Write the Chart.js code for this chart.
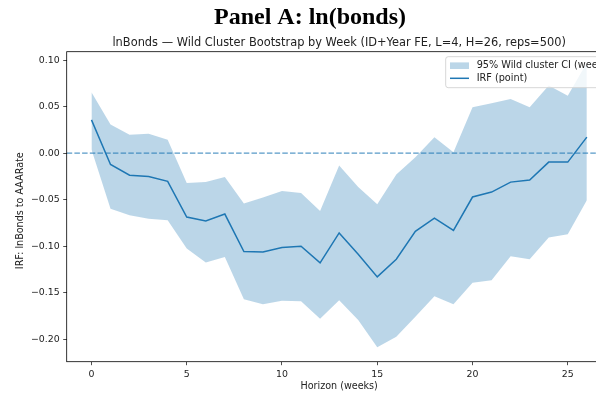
<!DOCTYPE html>
<html><head><meta charset="utf-8">
<script src="https://cdn.jsdelivr.net/npm/chart.js@4.4.0/dist/chart.umd.min.js"></script>
<style>html,body{margin:0;padding:0;overflow:hidden;background:#fff;width:596px;height:393px}canvas{display:block}</style>
</head><body>
<canvas id="c" width="620" height="393"></canvas>
<script>
const horizons = [0,1,2,3,4,5,6,7,8,9,10,11,12,13,14,15,16,17,18,19,20,21,22,23,24,25,26];
const irfPoint = [0.0358,-0.0121,-0.0236,-0.0250,-0.0303,-0.0686,-0.0729,-0.0654,-0.1057,-0.1061,-0.1014,-0.1000,-0.1179,-0.0857,-0.1086,-0.1329,-0.1139,-0.0839,-0.0697,-0.0829,-0.0471,-0.0418,-0.0311,-0.0289,-0.0096,-0.0096,0.0172];
const ciUpper = [0.0654,0.0308,0.0197,0.0208,0.0143,-0.0320,-0.0310,-0.0257,-0.0540,-0.0477,-0.0407,-0.0429,-0.0621,-0.0132,-0.0364,-0.0550,-0.0228,-0.0043,0.0172,0.0011,0.0493,0.0536,0.0583,0.0493,0.0726,0.0618,0.0970];
const ciLower = [0.0040,-0.0596,-0.0668,-0.0704,-0.0721,-0.1025,-0.1175,-0.1114,-0.1570,-0.1622,-0.1586,-0.1590,-0.1779,-0.1579,-0.1793,-0.2086,-0.1972,-0.1758,-0.1536,-0.1622,-0.1393,-0.1364,-0.1107,-0.1139,-0.0907,-0.0871,-0.0507];
const zeroLevel = [0, 0];
const xTickValues = [0,5,10,15,20,25];
const yTickValues = [0.10,0.05,0.00,-0.05,-0.10,-0.15,-0.20];
const xRange = [-1.3, 27.3];
const yRange = [-0.224, 0.109];
const figTitle = 'Panel A: ln(bonds)';
const axTitle = 'lnBonds \u2014 Wild Cluster Bootstrap by Week (ID+Year FE, L=4, H=26, reps=500)';
const xLabel = 'Horizon (weeks)';
const yLabel = 'IRF: lnBonds to AAARate';
const legendLabels = ['95% Wild cluster CI (week)', 'IRF (point)'];

const C0 = '#1f77b4';
const BAND = 'rgba(31,119,180,0.3)';
const TXT = '#222';
const SANS = '"DejaVu Sans", sans-serif';

const pts = arr => horizons.map((h, i) => ({x: h, y: arr[i]}));

const decor = {
  id: 'decor',
  afterDatasetsDraw(chart) {
    const {ctx, chartArea: a} = chart;
    ctx.save();
    ctx.strokeStyle = '#000';
    ctx.lineWidth = 0.8;
    ctx.strokeRect(a.left, a.top, a.right - a.left, a.bottom - a.top);
    ctx.restore();
  },
  afterDraw(chart) {
    const {ctx, chartArea: a} = chart;
    const cx = (a.left + a.right) / 2;
    const cy = (a.top + a.bottom) / 2;
    ctx.save();
    ctx.fillStyle = '#000';
    ctx.textAlign = 'center';
    ctx.textBaseline = 'alphabetic';
    ctx.font = 'bold 24px "Liberation Serif", serif';
    ctx.fillText(figTitle, chart.width / 2, 24);
    ctx.fillStyle = TXT;
    ctx.font = '11.4px ' + SANS;
    ctx.fillText(axTitle, cx, 45.5);
    ctx.font = '9.6px ' + SANS;
    ctx.textBaseline = 'middle';
    ctx.fillText(xLabel, cx, 386.5);
    ctx.save();
    ctx.translate(20.5, cy + 4);
    ctx.rotate(-Math.PI / 2);
    ctx.fillText(yLabel, 0, 0);
    ctx.restore();

    // legend
    ctx.font = '9.7px ' + SANS;
    const tw = Math.max(...legendLabels.map(t => ctx.measureText(t).width));
    const bx = a.right - 165.9, by = a.top + 5, bh = 31;
    const bw = 4.3 + 19 + 7.7 + tw + 4.3;
    ctx.beginPath();
    if (ctx.roundRect) ctx.roundRect(bx, by, bw, bh, 2.5); else ctx.rect(bx, by, bw, bh);
    ctx.fillStyle = 'rgba(255,255,255,0.8)';
    ctx.fill();
    ctx.strokeStyle = '#cccccc';
    ctx.lineWidth = 0.8;
    ctx.stroke();
    const hx = bx + 4.3;
    const r1 = by + 9, r2 = by + 21.6;
    ctx.fillStyle = BAND;
    ctx.fillRect(hx, r1 - 3.3, 19, 6.6);
    ctx.strokeStyle = C0;
    ctx.lineWidth = 1.5;
    ctx.beginPath(); ctx.moveTo(hx, r2); ctx.lineTo(hx + 19, r2); ctx.stroke();
    ctx.fillStyle = TXT;
    ctx.textAlign = 'left';
    ctx.textBaseline = 'middle';
    ctx.fillText(legendLabels[0], hx + 19 + 7.7, r1);
    ctx.fillText(legendLabels[1], hx + 19 + 7.7, r2);
    ctx.restore();
  }
};

new Chart(document.getElementById('c'), {
  type: 'line',
  data: {
    datasets: [
      {label: 'lower', data: pts(ciLower), borderColor: 'rgba(0,0,0,0)', backgroundColor: BAND, pointRadius: 0, fill: false, tension: 0},
      {label: legendLabels[0], data: pts(ciUpper), borderColor: 'rgba(0,0,0,0)', backgroundColor: BAND, pointRadius: 0, fill: '-1', tension: 0},
      {label: 'zero', data: xRange.map((x, i) => ({x: x, y: zeroLevel[i]})), borderColor: 'rgba(31,119,180,0.75)', borderWidth: 1.4, borderDash: [5.5, 2.2], pointRadius: 0, fill: false},
      {label: legendLabels[1], data: pts(irfPoint), borderColor: C0, borderWidth: 1.5, pointRadius: 0, fill: false, tension: 0}
    ]
  },
  options: {
    responsive: false,
    animation: false,
    devicePixelRatio: 1,
    layout: {padding: {top: 51.7, right: 8.4, left: 0, bottom: 0}},
    plugins: {legend: {display: false}, title: {display: false}, tooltip: {enabled: false}},
    scales: {
      x: {
        type: 'linear', min: xRange[0], max: xRange[1],
        afterBuildTicks: s => { s.ticks = xTickValues.map(v => ({value: v})); },
        afterFit: s => { s.height = 393 - 361.7; },
        ticks: {font: {family: 'DejaVu Sans', size: 9.4}, color: TXT, padding: 4, maxRotation: 0, autoSkip: false, callback: v => String(v)},
        grid: {drawOnChartArea: false, drawTicks: true, tickLength: 3.5, tickColor: '#222', tickWidth: 0.8},
        border: {display: false}
      },
      y: {
        type: 'linear', min: yRange[0], max: yRange[1],
        afterBuildTicks: s => { s.ticks = yTickValues.map(v => ({value: v})); },
        afterFit: s => { s.width = 66.7; },
        ticks: {font: {family: 'DejaVu Sans', size: 9.4}, color: TXT, padding: 3.5, autoSkip: false,
          callback: v => (v < -1e-9 ? '\u2212' : '') + Math.abs(v).toFixed(2)},
        grid: {drawOnChartArea: false, drawTicks: true, tickLength: 3.5, tickColor: '#222', tickWidth: 0.8},
        border: {display: false}
      }
    }
  },
  plugins: [decor]
});
</script>
</body></html>
